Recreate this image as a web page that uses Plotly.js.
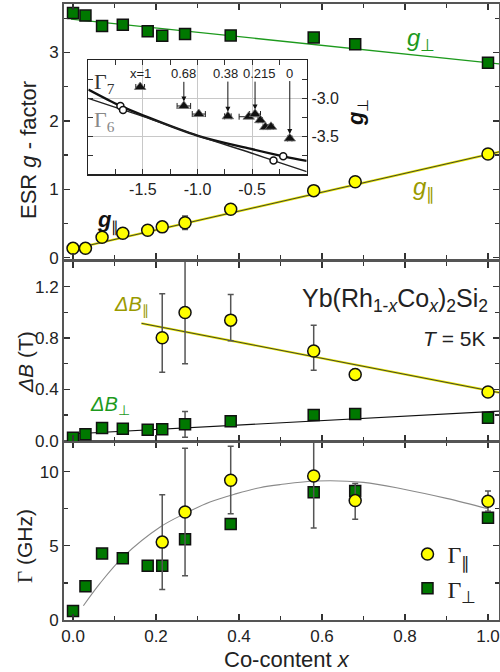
<!DOCTYPE html>
<html><head><meta charset="utf-8">
<script src="https://cdn.plot.ly/plotly-3.0.1.min.js"></script>
<style>html,body{margin:0;padding:0;background:#fff}#chart{width:500px;height:672px}</style>
</head><body><div id="chart"></div>
<script>
// ---------- data ----------
const coContent = [0, 0.03, 0.07, 0.12, 0.18, 0.215, 0.27, 0.38, 0.58, 0.68, 1.0];
const gPerp     = [3.577, 3.54, 3.39, 3.405, 3.31, 3.245, 3.27, 3.25, 3.22, 3.12, 2.85];
const gPar      = [0.136, 0.136, 0.297, 0.356, 0.40, 0.45, 0.51, 0.707, 0.98, 1.11, 1.517];
const gParErr   = [0, 0, 0, 0, 0, 0.06, 0.1, 0, 0, 0, 0];
const gPerpFitX = [-0.005, 1.027];
const gPerpFitY = [3.49, 2.833];
const gParFitX  = [-0.005, 1.027];
const gParFitY  = [0.12, 1.547];

const dbParX     = [0.215, 0.27, 0.38, 0.58, 0.68, 1.0];
const dbPar      = [0.803, 1.0, 0.94, 0.70, 0.517, 0.38];
const dbParPlus  = [0.343, 0.4, 0.2, 0.2, 0.04, 0.02];
const dbParMinus = [0.27, 0.4, 0.16, 0.15, 0.04, 0.02];
const dbPerp     = [0.023, 0.05, 0.099, 0.094, 0.086, 0.089, 0.128, 0.151, 0.2, 0.208, 0.18];
const dbPerpErr  = [0, 0, 0, 0, 0, 0, 0.1, 0, 0, 0, 0];
const dbParFitX  = [0.165, 1.027];
const dbParFitY  = [0.915, 0.375];
const dbPerpFitX = [-0.005, 1.027];
const dbPerpFitY = [0.052, 0.231];

const gamPerp     = [0.61, 2.27, 4.48, 4.17, 3.65, 3.65, 5.45, 6.48, 8.61, 8.7, 6.9];
const gamParX     = [0.215, 0.27, 0.38, 0.58, 0.68, 1.0];
const gamPar      = [5.25, 7.28, 9.42, 9.71, 8.05, 8.0];
const gamParPlus  = [3.2, 4.3, 2.3, 3.5, 1.15, 0.7];
const gamParMinus = [3.2, 4.3, 2.25, 3.5, 1.25, 0.67];
const gamFitX = [0.025, 0.065, 0.121, 0.21, 0.27, 0.33, 0.394, 0.45, 0.5, 0.587, 0.70, 0.80, 0.9, 1.0];
const gamFitY = [0.96, 2.47, 4.26, 6.27, 7.18, 7.96, 8.52, 8.92, 9.13, 9.37, 9.28, 8.8, 8.2, 7.5];

// inset: g_par vs g_perp
const insetGpar   = [-1.525, -1.125, -0.988, -0.722, -0.531, -0.473, -0.425, -0.379, -0.327, -0.155];
const insetGperp  = [-2.854, -3.103, -3.209, -3.239, -3.244, -3.209, -3.29, -3.38, -3.376, -3.53];
const insetErr    = [0.04, 0.062, 0.06, 0.03, 0.088, 0.05, 0.02, 0.02, 0.02, 0.02];
const g7CurveX = [-2.0, -1.706, -1.5, -0.995, -0.509, -0.215, 0.0];
const g7CurveY = [-2.888, -3.103, -3.226, -3.495, -3.667, -3.764, -3.824];
const g6CurveX = [-2.0, -1.682, -1.5, -0.995, -0.509, -0.304, 0.0];
const g6CurveY = [-3.004, -3.155, -3.24, -3.495, -3.72, -3.82, -3.965];
const g7CircX = [-1.706, -0.215];
const g7CircY = [-3.103, -3.764];
const g6CircX = [-1.682, -0.304];
const g6CircY = [-3.155, -3.82];
const insetLabels = ['x=1', '0.68', '0.38', '0.215', '0'];
const insetLabelIdx = [0, 1, 3, 5, 9];

// ---------- styles ----------
const SANS = 'Liberation Sans, Arial, sans-serif';
const SERIF = 'Liberation Serif, Times New Roman, serif';
const GREEN = '#007800', GLINE = '#1d9a1d', YELLOW = '#ffff00', OLIVE = '#9a9a00', FRAME = '#555';
const sqMarker = {symbol: 'square', size: 11, color: GREEN, line: {color: '#111', width: 1.5}};
const ciMarker = {symbol: 'circle', size: 12, color: YELLOW, line: {color: '#111', width: 1.5}};
const errStyle = {color: '#555', thickness: 1.5, width: 3};

const traces = [
  // top panel: g factors
  {x: gPerpFitX, y: gPerpFitY, xaxis: 'x3', yaxis: 'y3', mode: 'lines', line: {color: GLINE, width: 1.3}, showlegend: false, hoverinfo: 'skip'},
  {x: gParFitX, y: gParFitY, xaxis: 'x3', yaxis: 'y3', mode: 'lines', line: {color: '#e8e800', width: 2.4}, showlegend: false, hoverinfo: 'skip'},
  {x: gParFitX, y: gParFitY, xaxis: 'x3', yaxis: 'y3', mode: 'lines', line: {color: '#333', width: 0.9}, showlegend: false, hoverinfo: 'skip'},
  {x: coContent, y: gPerp, xaxis: 'x3', yaxis: 'y3', mode: 'markers', marker: sqMarker, showlegend: false},
  {x: coContent, y: gPar, xaxis: 'x3', yaxis: 'y3', mode: 'markers', marker: ciMarker, showlegend: false,
   error_y: Object.assign({type: 'data', array: gParErr, visible: true}, errStyle)},
  // middle panel: linewidths
  {x: dbParFitX, y: dbParFitY, xaxis: 'x2', yaxis: 'y2', mode: 'lines', line: {color: '#e8e800', width: 2.4}, showlegend: false, hoverinfo: 'skip'},
  {x: dbParFitX, y: dbParFitY, xaxis: 'x2', yaxis: 'y2', mode: 'lines', line: {color: '#333', width: 0.9}, showlegend: false, hoverinfo: 'skip'},
  {x: dbPerpFitX, y: dbPerpFitY, xaxis: 'x2', yaxis: 'y2', mode: 'lines', line: {color: '#111', width: 1.1}, showlegend: false, hoverinfo: 'skip'},
  {x: coContent, y: dbPerp, xaxis: 'x2', yaxis: 'y2', mode: 'markers', marker: sqMarker, showlegend: false,
   error_y: Object.assign({type: 'data', array: dbPerpErr, visible: true}, errStyle)},
  {x: dbParX, y: dbPar, xaxis: 'x2', yaxis: 'y2', mode: 'markers', marker: ciMarker, showlegend: false,
   error_y: Object.assign({type: 'data', array: dbParPlus, arrayminus: dbParMinus, symmetric: false, visible: true}, errStyle)},
  // bottom panel: Gamma
  {x: gamFitX, y: gamFitY, xaxis: 'x', yaxis: 'y', mode: 'lines', line: {color: '#8a8a8a', width: 1.1, shape: 'spline', smoothing: 1}, showlegend: false, hoverinfo: 'skip'},
  {x: coContent, y: gamPerp, xaxis: 'x', yaxis: 'y', mode: 'markers', marker: sqMarker, showlegend: false},
  {x: gamParX, y: gamPar, xaxis: 'x', yaxis: 'y', mode: 'markers', marker: ciMarker, showlegend: false,
   error_y: Object.assign({type: 'data', array: gamParPlus, arrayminus: gamParMinus, symmetric: false, visible: true}, errStyle)},
  // legend entries
  {x: [null], y: [null], xaxis: 'x', yaxis: 'y', mode: 'markers', marker: ciMarker, name: 'Γ<sub>∥</sub>', showlegend: true},
  {x: [null], y: [null], xaxis: 'x', yaxis: 'y', mode: 'markers', marker: sqMarker, name: 'Γ<sub>⊥</sub>', showlegend: true},
  // inset
  {x: g7CurveX, y: g7CurveY, xaxis: 'x4', yaxis: 'y4', mode: 'lines', line: {color: '#111', width: 2.4, shape: 'spline'}, showlegend: false, hoverinfo: 'skip'},
  {x: g6CurveX, y: g6CurveY, xaxis: 'x4', yaxis: 'y4', mode: 'lines', line: {color: '#222', width: 1.4, shape: 'spline'}, showlegend: false, hoverinfo: 'skip'},
  {x: g7CircX, y: g7CircY, xaxis: 'x4', yaxis: 'y4', mode: 'markers', marker: {symbol: 'circle', size: 7, color: '#fff', line: {color: '#111', width: 1.5}}, showlegend: false},
  {x: g6CircX, y: g6CircY, xaxis: 'x4', yaxis: 'y4', mode: 'markers', marker: {symbol: 'circle', size: 7, color: '#fff', line: {color: '#111', width: 1.5}}, showlegend: false},
  {x: insetGpar, y: insetGperp, xaxis: 'x4', yaxis: 'y4', mode: 'markers',
   marker: {symbol: 'triangle-up', size: 10, color: '#111', line: {color: '#777', width: 0.8}}, showlegend: false,
   error_x: {type: 'data', array: insetErr, visible: true, color: '#222', thickness: 1, width: 3}}
];

const tickFont = {family: SANS, size: 17, color: '#222'};
const xCommon = {
  range: [-0.0217, 1.0265], domain: [0.128, 0.998], showline: true, linecolor: FRAME, linewidth: 2,
  mirror: 'allticks', ticks: 'inside', ticklen: 6, tickwidth: 1.2, tickcolor: '#333',
  dtick: 0.2, tick0: 0, tickformat: '.1f', showgrid: false, zeroline: false, tickfont: tickFont,
  minor: {dtick: 0.1, tick0: 0, ticklen: 4, tickcolor: '#333', ticks: 'inside', showgrid: false}
};
const yCommon = {
  showline: true, linecolor: FRAME, linewidth: 2, mirror: 'allticks', ticks: 'inside', ticklen: 6,
  tickwidth: 1.2, tickcolor: '#333', showgrid: false, zeroline: false, tickfont: tickFont, anchor: 'x'
};

function ann(text, x, y, size, color, extra) {
  return Object.assign({text: text, x: x, y: y, xref: 'paper', yref: 'paper', showarrow: false,
    font: {family: SANS, size: size, color: color}, xanchor: 'center', yanchor: 'middle'}, extra || {});
}

const annotations = [
  ann('ESR <i>g</i> - factor', 28 / 500, 1 - 150 / 672, 22, '#222', {textangle: -90}),
  ann('<i>ΔB</i> (T)', 25 / 500, 1 - 362 / 672, 21, '#222', {textangle: -90}),
  ann('<span style="font-family:Liberation Serif">Γ</span> (GHz)', 25 / 500, 1 - 546 / 672, 21, '#222', {textangle: -90}),
  ann('Co-content <i>x</i>', 287 / 500, 1 - 659 / 672, 22, '#222'),
  ann('<i>g</i><sub>⊥</sub>', 421 / 500, 1 - 39 / 672, 24, GLINE),
  ann('<i>g</i><sub>∥</sub>', 424 / 500, 1 - 188 / 672, 24, OLIVE),
  ann('<i>ΔB</i><sub>∥</sub>', 131 / 500, 1 - 305 / 672, 20, OLIVE),
  ann('<i>ΔB</i><sub>⊥</sub>', 110 / 500, 1 - 405 / 672, 20, GLINE),
  ann('Yb(Rh<sub>1-<i>x</i></sub>Co<sub><i>x</i></sub>)<sub>2</sub>Si<sub>2</sub>', 490 / 500, 1 - 300 / 672, 25, '#222', {xanchor: 'right'}),
  ann('<i>T</i> = 5K', 487 / 500, 1 - 338 / 672, 21, '#222', {xanchor: 'right'}),
  ann('<b><i>g</i></b><sub>∥</sub>', 108 / 500, 1 - 222 / 672, 22, '#111'),
  ann('<b><i>g</i></b><sub>⊥</sub>', 357 / 500, 1 - 113 / 672, 22, '#111', {textangle: -90}),
  ann('Γ<sub>7</sub>', 104 / 500, 1 - 83 / 672, 22, '#333', {font: {family: SERIF, size: 22, color: '#333'}}),
  ann('Γ<sub>6</sub>', 104 / 500, 1 - 121 / 672, 22, '#888', {font: {family: SERIF, size: 22, color: '#888'}})
];
// inset x labels (text) and arrows (separate, so labels can be nudged apart)
const labelShift = [0, 0, -2, 4, 0];
insetLabels.forEach(function (lab, k) {
  const i = insetLabelIdx[k];
  annotations.push({text: lab, x: insetGpar[i], y: -2.683, xref: 'x4', yref: 'y4', xshift: labelShift[k],
    showarrow: false, xanchor: 'center', yanchor: 'middle', font: {family: SANS, size: 13, color: '#222'}});
  if (k > 0) {
    const tipY = insetGperp[i] + 0.06;
    const tipPx = 97.7 - (tipY + 3.0) * 78; // pixel row of arrow tip
    annotations.push({text: '', x: insetGpar[i], y: tipY, xref: 'x4', yref: 'y4', showarrow: true,
      ax: 0, ay: 80 - tipPx, arrowhead: 2, arrowsize: 1, arrowwidth: 1, arrowcolor: '#111', standoff: 0, startstandoff: 0});
  }
});

const layout = {
  width: 500, height: 672, margin: {l: 0, r: 0, t: 0, b: 0},
  paper_bgcolor: '#fff', plot_bgcolor: 'rgba(0,0,0,0)',
  font: {family: SANS, color: '#222'},
  xaxis: Object.assign({}, xCommon, {anchor: 'y'}),
  xaxis2: Object.assign({}, xCommon, {anchor: 'y2', showticklabels: false}),
  xaxis3: Object.assign({}, xCommon, {anchor: 'y3', showticklabels: false}),
  yaxis: Object.assign({}, yCommon, {domain: [0.07738, 0.34226], range: [0, 12], dtick: 5, tick0: 0,
    minor: {dtick: 2.5, tick0: 0, ticklen: 4, tickcolor: '#333', ticks: 'inside'}}),
  yaxis2: Object.assign({}, yCommon, {domain: [0.34375, 0.61012], range: [-0.002, 1.393], dtick: 0.4, tick0: 0, tickformat: '.1f',
    minor: {dtick: 0.2, tick0: 0, ticklen: 4, tickcolor: '#333', ticks: 'inside'}}),
  yaxis3: Object.assign({}, yCommon, {domain: [0.61458, 0.99405], range: [-0.02, 3.71], dtick: 1, tick0: 0,
    minor: {dtick: 0.5, tick0: 0, ticklen: 4, tickcolor: '#333', ticks: 'inside'}}),
  xaxis4: {domain: [0.1766, 0.6134], anchor: 'y4', range: [-2, 0], showline: true, linecolor: '#222', linewidth: 1.5,
    mirror: 'allticks', ticks: 'inside', ticklen: 5, tickcolor: '#333', tickmode: 'array',
    tickvals: [-1.5, -1.0, -0.5], ticktext: ['-1.5', '-1.0', '-0.5'], showgrid: true, gridcolor: '#c8c8c8', gridwidth: 1,
    zeroline: false, tickfont: {family: SANS, size: 16, color: '#222'},
    minor: {tickmode: 'array', tickvals: [-1.75, -1.25, -0.75, -0.25], ticklen: 5, tickcolor: '#333', ticks: 'inside', showgrid: false}},
  yaxis4: {domain: [0.7406, 0.9107], anchor: 'x4', side: 'right', range: [-4, -2.5], showline: true, linecolor: '#222', linewidth: 1.5,
    mirror: 'allticks', ticks: 'inside', ticklen: 5, tickcolor: '#333', tickmode: 'array',
    tickvals: [-3.0, -3.5], ticktext: ['-3.0', '-3.5'], showgrid: true, gridcolor: '#c8c8c8', gridwidth: 1,
    zeroline: false, tickfont: {family: SANS, size: 16, color: '#222'},
    minor: {tickmode: 'array', tickvals: [-2.75, -3.25, -3.75], ticklen: 5, tickcolor: '#333', ticks: 'inside', showgrid: false}},
  showlegend: true,
  legend: {x: 0.815, y: 1 - 532 / 672, xanchor: 'left', yanchor: 'top', bgcolor: 'rgba(0,0,0,0)',
    font: {family: SERIF, size: 24, color: '#222'}, tracegroupgap: 0, itemclick: false},
  annotations: annotations
};

Plotly.newPlot('chart', traces, layout, {staticPlot: true});
</script>
</body></html>
